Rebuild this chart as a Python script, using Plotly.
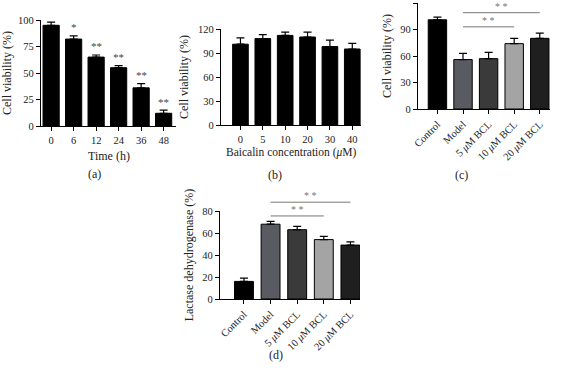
import plotly.graph_objects as go

W, H = 561, 370

# ---------------- data ----------------
time_labels = ["0", "6", "12", "24", "36", "48"]
time_vals = [95, 82, 65, 55, 36, 12]
time_err = [3, 3, 2, 2, 4, 3]
time_stars = ["", "*", "**", "**", "**", "**"]

conc_labels = ["0", "5", "10", "20", "30", "40"]
conc_vals = [101, 108, 112, 110, 98, 95]
conc_err = [8, 5, 4, 6, 8, 7]

groups = ["Control", "Model", "5 <i>μ</i>M BCL", "10 <i>μ</i>M BCL", "20 <i>μ</i>M BCL"]
group_colors = ["#000000", "#5a5a62", "#3a3a3a", "#a4a4a4", "#1f1f1f"]
viab_vals = [101, 56, 57, 74, 80]
viab_err = [3, 7, 7, 6, 6]
ldh_vals = [16, 68, 63, 54, 49]
ldh_err = [3, 2.5, 3, 3, 3]

# significance brackets: (from index, to index, height)
sig_c = [(1, 3, 93), (1, 4, 109)]
sig_d = [(1, 3, 75.5), (1, 4, 88)]

FONT = "Liberation Serif"

# axis ranges
xr_a, yr_a = [-0.45, 5.55], [0, 100]
xr_b, yr_b = [-0.87, 5.39], [0, 120]
xr_c, yr_c = [-0.76, 4.4], [0, 120]
xr_d, yr_d = [-0.9, 4.36], [0, 80]


def px_x(a, b):
    return [a / W, b / W]


def px_y(top, bottom):
    return [1 - bottom / H, 1 - top / H]


fig = go.Figure()


def bar_trace(n, ys, errs, colors, xa, ya, width):
    return go.Bar(
        x=list(range(n)), y=ys,
        marker=dict(color=colors, line=dict(color="#000000", width=1)),
        width=width,
        error_y=dict(type="data", array=errs, arrayminus=[0] * len(errs),
                     symmetric=False, color="#000000", thickness=1.2, width=4),
        xaxis=xa, yaxis=ya, showlegend=False, hoverinfo="skip",
    )


fig.add_trace(bar_trace(len(time_labels), time_vals, time_err, "#000000", "x", "y", 0.72))
fig.add_trace(bar_trace(len(conc_labels), conc_vals, conc_err, "#000000", "x2", "y2", 0.7))
fig.add_trace(bar_trace(len(groups), viab_vals, viab_err, group_colors, "x3", "y3", 0.72))
fig.add_trace(bar_trace(len(groups), ldh_vals, ldh_err, group_colors, "x4", "y4", 0.71))

axis_common = dict(showline=True, linecolor="#000000", linewidth=1.2, ticks="outside",
                   ticklen=4, tickwidth=1, tickcolor="#000000", showgrid=False,
                   zeroline=False, automargin=False, fixedrange=True,
                   tickfont=dict(family=FONT, size=10.5, color="#222"))


def xaxis(dom, labels, rng, anchor, angle=0):
    d = dict(axis_common)
    d.update(domain=dom, range=rng, tickmode="array", tickvals=list(range(len(labels))),
             ticktext=labels, anchor=anchor, tickangle=angle)
    return d


def yaxis(dom, rng, dtick, anchor, title, standoff=6):
    d = dict(axis_common)
    d.update(domain=dom, range=rng, dtick=dtick, anchor=anchor,
             title=dict(text=title, font=dict(family=FONT, size=12, color="#222"), standoff=standoff))
    return d


fig.update_layout(
    template="none",
    width=W, height=H, margin=dict(l=0, r=0, t=0, b=0),
    paper_bgcolor="white", plot_bgcolor="white",
    hovermode=False,
    xaxis=xaxis(px_x(41, 176), time_labels, xr_a, "y"),
    yaxis=yaxis(px_y(20, 126), yr_a, 25, "x", "Cell viability (%)", 7),
    xaxis2=xaxis(px_x(221, 361), conc_labels, xr_b, "y2"),
    yaxis2=yaxis(px_y(29, 125), yr_b, 30, "x2", "Cell viability (%)"),
    xaxis3=xaxis(px_x(418, 550), groups, xr_c, "y3", -45),
    yaxis3=yaxis(px_y(3, 109), yr_c, 30, "x3", "Cell viability (%)"),
    xaxis4=xaxis(px_x(220, 360), groups, xr_d, "y4", -45),
    yaxis4=yaxis(px_y(211, 299), yr_d, 20, "x4", "Lactase dehydrogenase (%)"),
)

ann = []
# stars in (a)
for i, s in enumerate(time_stars):
    if s:
        ann.append(dict(x=i, y=time_vals[i] + time_err[i] + 0.5, xref="x", yref="y", text=s,
                        showarrow=False, yanchor="bottom", font=dict(family=FONT, size=11, color="#444")))

shapes = []


def frac(v, r):
    return (v - r[0]) / (r[1] - r[0])


for sig, xn, yn, xr, yr in ((sig_c, "x3", "y3", xr_c, yr_c), (sig_d, "x4", "y4", xr_d, yr_d)):
    for a, b, h in sig:
        shapes.append(dict(type="line", xref=xn + " domain", yref=yn + " domain",
                           x0=frac(a, xr), x1=frac(b, xr), y0=frac(h, yr), y1=frac(h, yr),
                           line=dict(color="#777777", width=1)))
        ann.append(dict(x=frac((a + b) / 2, xr), y=frac(h, yr), xref=xn + " domain", yref=yn + " domain",
                        text="* *", showarrow=False, yanchor="bottom", yshift=-1,
                        font=dict(family=FONT, size=10, color="#777")))

# x-axis titles
ann.append(dict(x=0.5, y=-0.2, xref="x domain", yref="y domain", text="Time (h)", showarrow=False,
                yanchor="top", font=dict(family=FONT, size=12, color="#222")))
ann.append(dict(x=0.5, y=-0.2, xref="x2 domain", yref="y2 domain", text="Baicalin concentration (<i>μ</i>M)",
                showarrow=False, yanchor="top", font=dict(family=FONT, size=11.5, color="#222")))

# panel labels
for txt, xp, yp in (("(a)", 86, 174), ("(b)", 275, 175), ("(c)", 470, 175), ("(d)", 276, 364)):
    ann.append(dict(x=xp / W, y=1 - yp / H, xref="paper", yref="paper", text=txt, showarrow=False,
                    font=dict(family=FONT, size=12, color="#222")))

fig.update_layout(annotations=ann, shapes=shapes)
fig.write_html("out.html", config={"displayModeBar": False},
               post_script="document.body.style.margin='0px';document.body.style.overflow='hidden';")
